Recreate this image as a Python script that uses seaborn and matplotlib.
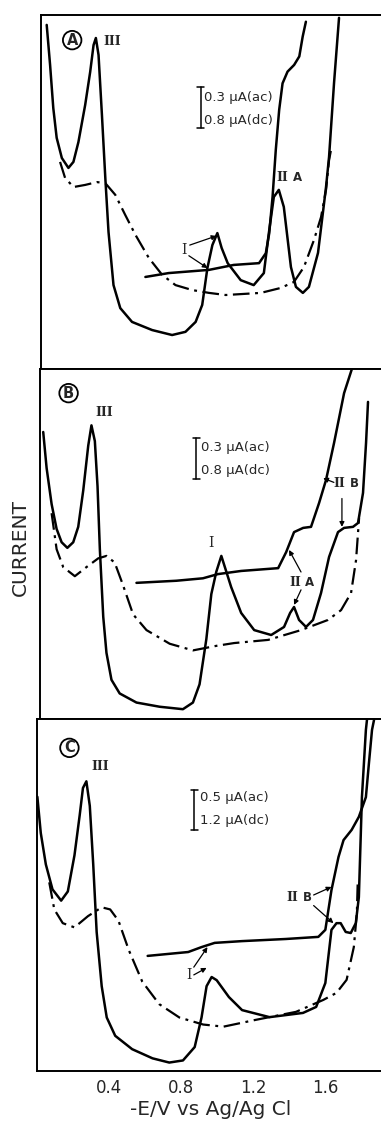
import numpy as np
import pandas as pd
import matplotlib
matplotlib.use('Agg')
import matplotlib.pyplot as plt
import seaborn as sns

# ---- data (y in arbitrary current units, 0-100 per panel)
# panel A
a_ac_x = [0.032, 0.051, 0.069, 0.088, 0.117, 0.154, 0.182, 0.210, 0.248, 0.276, 0.295, 0.308, 0.323,
          0.342, 0.361, 0.379, 0.407, 0.445, 0.511, 0.624, 0.736, 0.811, 0.868, 0.905, 0.934, 0.962,
          0.990, 1.014, 1.048, 1.121, 1.194, 1.251, 1.279, 1.307, 1.335, 1.363, 1.403, 1.431, 1.470,
          1.504, 1.555, 1.600, 1.617, 1.645, 1.673]
a_ac_y = [97.2, 85.9, 73.7, 65.3, 59.6, 56.8, 58.5, 64.1, 74.6, 83.9, 91.5, 93.5, 88.7,
          71.8, 54.0, 38.7, 23.7, 17.2, 13.3, 11.0, 9.6, 10.5, 13.3, 18.1, 28.5, 35.0,
          38.4, 34.2, 29.9, 25.1, 23.7, 27.1, 38.4, 48.6, 50.6, 45.8, 28.8, 23.2, 21.5,
          23.2, 32.8, 51.4, 59.9, 80.8, 99.2]
a_dc_x = [0.586, 0.717, 0.943, 1.082, 1.224, 1.262, 1.281, 1.300, 1.318, 1.337, 1.356, 1.384, 1.421,
          1.450, 1.469, 1.487]
a_dc_y = [26.0, 27.1, 28.0, 29.4, 29.9, 32.7, 38.3, 48.7, 61.9, 73.2, 80.7, 84.0, 85.9,
          88.3, 93.9, 98.1]
a_bg_x = [0.107, 0.135, 0.182, 0.248, 0.314, 0.361, 0.417, 0.473, 0.530, 0.605, 0.680, 0.755, 0.849,
          0.943, 1.037, 1.234, 1.346, 1.420, 1.476, 1.532, 1.572, 1.600, 1.617, 1.628]
a_bg_y = [58.5, 54.0, 51.4, 52.0, 52.8, 52.5, 49.2, 43.5, 37.9, 31.4, 26.6, 23.7, 22.3,
          21.5, 20.9, 21.5, 22.9, 24.6, 28.8, 36.4, 42.9, 50.6, 59.0, 61.9]

# panel B
b_ac_x = [0.018, 0.037, 0.065, 0.093, 0.121, 0.153, 0.186, 0.214, 0.242, 0.270, 0.288, 0.307, 0.322,
          0.335, 0.354, 0.372, 0.400, 0.446, 0.540, 0.670, 0.800, 0.856, 0.893, 0.931, 0.959, 0.987,
          1.015, 1.070, 1.126, 1.199, 1.294, 1.366, 1.400, 1.422, 1.450, 1.489, 1.528, 1.573, 1.618,
          1.668, 1.702, 1.752, 1.780, 1.808, 1.825, 1.836]
b_ac_y = [82.0, 71.7, 61.4, 54.3, 50.5, 48.9, 50.5, 54.9, 65.3, 78.1, 83.9, 79.4, 66.5,
          48.5, 29.2, 18.9, 11.2, 7.3, 4.7, 3.5, 2.8, 4.7, 9.9, 22.8, 35.7, 42.1,
          46.6, 37.7, 30.3, 25.4, 24.0, 26.3, 30.3, 32.0, 28.3, 26.3, 28.3, 36.0, 46.3,
          53.4, 54.6, 54.9, 56.0, 64.6, 78.9, 90.6]
b_dc_x = [0.540, 0.763, 0.912, 0.996, 1.126, 1.333, 1.378, 1.422, 1.473, 1.517, 1.562, 1.601, 1.646,
          1.702, 1.752]
b_dc_y = [38.9, 39.5, 40.2, 41.4, 42.3, 43.1, 47.7, 53.4, 54.6, 54.9, 61.7, 68.3, 78.9,
          93.1, 101.0]
b_bg_x = [0.065, 0.093, 0.130, 0.195, 0.260, 0.326, 0.372, 0.418, 0.465, 0.521, 0.596, 0.726, 0.856,
          0.987, 1.087, 1.277, 1.461, 1.612, 1.685, 1.741, 1.769, 1.786]
b_bg_y = [58.8, 48.5, 43.4, 40.8, 43.4, 45.9, 46.6, 44.7, 38.2, 29.9, 25.4, 21.5, 19.6,
          20.9, 21.7, 22.6, 25.4, 28.3, 31.1, 36.0, 45.4, 57.4]

# panel C
c_ac_x = [0.002, 0.021, 0.049, 0.086, 0.134, 0.171, 0.208, 0.237, 0.255, 0.274, 0.293, 0.312, 0.331,
          0.359, 0.387, 0.434, 0.528, 0.641, 0.734, 0.810, 0.875, 0.913, 0.941, 0.969, 0.997, 1.065,
          1.138, 1.290, 1.476, 1.549, 1.600, 1.634, 1.662, 1.685, 1.713, 1.741, 1.769, 1.786, 1.803,
          1.825, 1.840]
c_ac_y = [77.9, 67.6, 58.7, 51.6, 48.4, 51.0, 61.3, 72.7, 80.4, 82.3, 75.3, 58.7, 39.5,
          24.1, 15.2, 10.0, 6.2, 3.6, 2.4, 3.0, 6.8, 15.2, 24.1, 26.7, 25.8, 21.0,
          17.3, 15.3, 16.5, 18.2, 25.0, 40.1, 42.0, 42.0, 39.5, 39.2, 42.0, 49.4, 77.8,
          96.9, 104.0]
c_dc_x = [0.614, 0.839, 0.913, 0.986, 1.138, 1.380, 1.561, 1.600, 1.634, 1.673, 1.701, 1.746, 1.786,
          1.825, 1.842, 1.859, 1.870]
c_dc_y = [32.7, 33.8, 35.2, 36.4, 36.9, 37.5, 38.1, 40.1, 51.4, 60.8, 65.6, 68.5, 72.2,
          77.8, 87.5, 96.9, 99.7]
c_bg_x = [0.068, 0.096, 0.143, 0.208, 0.283, 0.359, 0.406, 0.452, 0.509, 0.584, 0.678, 0.790, 0.922,
          1.035, 1.211, 1.437, 1.589, 1.662, 1.718, 1.758, 1.775, 1.780]
c_bg_y = [53.6, 45.9, 42.0, 40.8, 44.0, 46.5, 45.9, 42.7, 34.4, 25.4, 19.0, 15.2, 13.2,
          12.6, 14.5, 16.8, 20.2, 22.2, 25.9, 35.2, 44.9, 54.3]

xticks = [0.4, 0.8, 1.2, 1.6]
xtick_labels = ['0.4', '0.8', '1.2', '1.6']

sns.set_style('white')
plt.rcParams['font.family'] = ['DejaVu Sans']

fig = plt.figure(figsize=(3.81, 11.21), dpi=100)
H = 1121.0
W = 381.0
# panel boxes in pixels: (left, top, bottom)
boxes = [(41, 15, 369), (40, 369, 719), (37, 719, 1071)]
axes = []
for left, top, bot in boxes:
    ax = fig.add_axes([left / W, 1 - bot / H, 1 - left / W + 0.01, (bot - top) / H])
    axes.append(ax)

panels = [
    (a_ac_x, a_ac_y, a_dc_x, a_dc_y, a_bg_x, a_bg_y),
    (b_ac_x, b_ac_y, b_dc_x, b_dc_y, b_bg_x, b_bg_y),
    (c_ac_x, c_ac_y, c_dc_x, c_dc_y, c_bg_x, c_bg_y),
]

dashdot = (0, (7.5, 2.5, 1.3, 2.5))
for ax, (acx, acy, dcx, dcy, bgx, bgy) in zip(axes, panels):
    sns.lineplot(x=acx, y=acy, sort=False, estimator=None, color='black', lw=1.8, ax=ax)
    sns.lineplot(x=dcx, y=dcy, sort=False, estimator=None, color='black', lw=1.8, ax=ax)
    sns.lineplot(x=bgx, y=bgy, sort=False, estimator=None, color='black', lw=1.6,
                 linestyle=dashdot, ax=ax)
    ax.set_xlim(0, 1.93)
    ax.set_ylim(0, 100)
    ax.set_yticks([])
    ax.set_xticks(xticks)
    ax.tick_params(axis='x', direction='in', length=6, width=1.2, labelsize=12, pad=6)
    ax.set_xticklabels([])
    ax.set_ylabel('')
    ax.spines['right'].set_visible(False)
    for s in ['left', 'top', 'bottom']:
        ax.spines[s].set_color('black')
        ax.spines[s].set_linewidth(1.4)

axes[2].set_xticklabels(xtick_labels)
axes[2].set_xlabel('-E/V vs Ag/Ag Cl', fontsize=14.5, labelpad=2)
fig.text(20 / W, 1 - 548 / H, 'CURRENT', rotation=90, fontsize=14.5, ha='center', va='center')

circ = dict(boxstyle='circle,pad=0.12', fc='none', ec='black', lw=1.3)
serif = dict(family='DejaVu Serif', weight='bold', fontsize=9)
arrow = dict(arrowstyle='-|>', color='black', lw=0.9, mutation_scale=7, shrinkA=0, shrinkB=0)


def scale_bar(ax, x, y0, y1, tx, t1, t2, ty1, ty2):
    ax.plot([x, x], [y0, y1], color='black', lw=1.1)
    ax.plot([x - 0.018, x + 0.018], [y0, y0], color='black', lw=1.1)
    ax.plot([x - 0.018, x + 0.018], [y1, y1], color='black', lw=1.1)
    ax.text(tx, ty1, t1, fontsize=9.5, va='center', ha='left')
    ax.text(tx, ty2, t2, fontsize=9.5, va='center', ha='left')


def roman_label(ax, x, y, letter):
    # bold serif "II" followed by a bold sans letter
    ax.text(x, y, 'II', ha='right', va='center', **serif)
    ax.text(x + 0.025, y, letter, ha='left', va='center', fontsize=8.5, weight='bold')


# panel A labels
ax = axes[0]
ax.text(0.175, 92.9, 'A', fontsize=10.5, weight='bold', ha='center', va='center', bbox=circ)
ax.text(0.40, 92.4, 'III', ha='center', va='center', **serif)
roman_label(ax, 1.39, 54.0, 'A')
ax.text(0.80, 33.6, 'I', ha='center', va='center', family='DejaVu Serif', fontsize=10)
ax.annotate('', xy=(0.985, 37.6), xytext=(0.835, 35.0), arrowprops=arrow)
ax.annotate('', xy=(0.935, 28.5), xytext=(0.83, 32.0), arrowprops=arrow)
scale_bar(ax, 0.896, 79.7, 68.1, 0.913, '0.3 μA(ac)', '0.8 μA(dc)', 76.8, 70.3)

# panel B labels
ax = axes[1]
ax.text(0.16, 93.1, 'B', fontsize=10.5, weight='bold', ha='center', va='center', bbox=circ)
ax.text(0.361, 87.7, 'III', ha='center', va='center', **serif)
ax.text(0.959, 50.3, 'I', ha='center', va='center', family='DejaVu Serif', fontsize=10)
roman_label(ax, 1.46, 39.1, 'A')
ax.annotate('', xy=(1.394, 48.3), xytext=(1.461, 42.0), arrowprops=arrow)
ax.annotate('', xy=(1.422, 32.6), xytext=(1.461, 36.9), arrowprops=arrow)
roman_label(ax, 1.71, 67.4, 'B')
ax.annotate('', xy=(1.585, 68.8), xytext=(1.645, 67.6), arrowprops=arrow)
ax.annotate('', xy=(1.690, 54.9), xytext=(1.690, 63.0), arrowprops=arrow)
scale_bar(ax, 0.875, 80.3, 68.6, 0.903, '0.3 μA(ac)', '0.8 μA(dc)', 77.7, 71.1)

# panel C labels
ax = axes[2]
ax.text(0.18, 91.8, 'C', fontsize=10.5, weight='bold', ha='center', va='center', bbox=circ)
ax.text(0.349, 86.4, 'III', ha='center', va='center', **serif)
ax.text(0.845, 27.3, 'I', ha='center', va='center', family='DejaVu Serif', fontsize=10)
ax.annotate('', xy=(0.946, 35.2), xytext=(0.87, 29.5), arrowprops=arrow)
ax.annotate('', xy=(0.941, 29.3), xytext=(0.87, 27.3), arrowprops=arrow)
roman_label(ax, 1.45, 49.4, 'B')
ax.annotate('', xy=(1.634, 52.3), xytext=(1.535, 50.0), arrowprops=arrow)
ax.annotate('', xy=(1.645, 42.0), xytext=(1.535, 47.0), arrowprops=arrow)
scale_bar(ax, 0.873, 79.8, 68.5, 0.903, '0.5 μA(ac)', '1.2 μA(dc)', 77.8, 71.3)

fig.savefig('out.png', dpi=100)
